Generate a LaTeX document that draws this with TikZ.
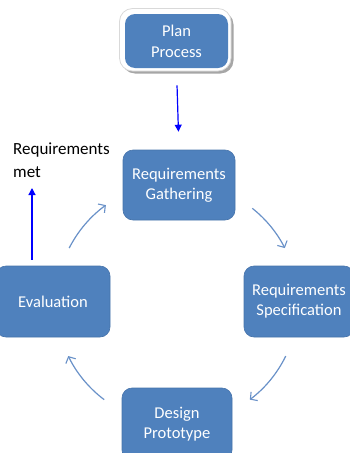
\documentclass[tikz,border=0pt]{standalone}
\usepackage{fontspec}
\setmainfont{Carlito}
\usetikzlibrary{arrows.meta,shadows,calc}
\definecolor{boxblue}{RGB}{79,129,189}
\definecolor{boxedge}{RGB}{70,115,170}
\definecolor{cycblue}{RGB}{105,145,200}
\tikzset{
  x=1pt,y=1pt,
  stagebox/.style={rectangle, rounded corners=10pt, fill=boxblue, draw=boxedge, line width=0.6pt,
    text=white, align=center, inner sep=0pt,
    font=\fontsize{16.5}{20}\selectfont},
  planframe/.style={fill=white, draw=black!15, line width=0.8pt, rounded corners=13pt},
  bluearrow/.style={draw=blue, line width=1.2pt, -{Triangle[length=7pt,width=7pt]}},
  cycarrow/.style={draw=cycblue, line width=1.2pt, -{Straight Barb[length=5pt,width=11pt,line width=1.1pt]}},
}
\begin{document}
\begin{tikzpicture}
\useasboundingbox (0,0) rectangle (349,-453);
\fill[black!35, rounded corners=13pt] (122,-11.5) rectangle (233.5,-73.5);
\path[planframe] (119.5,-8.5) rectangle (231,-71);
\node[stagebox, draw=none, minimum width=103pt, minimum height=54pt] (plan) at (176.5,-41) {Plan\\[1pt]Process};
\node[stagebox, minimum width=112pt, minimum height=70pt] (gather) at (179,-185) {Requirements\\Gathering};
\node[stagebox, minimum width=110pt, minimum height=71pt] (spec) at (299,-301.5) {Requirements\\Specification};
\node[stagebox, minimum width=114pt, minimum height=71pt] (eval) at (53,-301.5) {Evaluation};
\node[stagebox, minimum width=110pt, minimum height=72pt] (design) at (177,-424) {Design\\Prototype};
\node[anchor=north west, align=left, inner sep=0pt, font=\fontsize{17}{23}\selectfont] (met) at (13,-143) {Requirements\\met};
\coordinate (metend) at (32,-188);
\draw[bluearrow, shorten <=17pt, shorten >=18pt] (plan.south) -- (gather.north);
\draw[bluearrow, shorten <=6pt] (metend |- eval.north) -- (metend);
% cycle arcs (centre (177,-303), radius 121)
\coordinate (a1) at ($(177,-303)+(153:121)$);
\coordinate (a2) at ($(177,-303)+(51.5:121)$);
\coordinate (a3) at ($(177,-303)+(-26:121)$);
\coordinate (a4) at ($(177,-303)+(-127:121)$);
\draw[cycarrow] (a1) arc[start angle=153, end angle=126, radius=121];
\draw[cycarrow] (a2) arc[start angle=51.5, end angle=27, radius=121];
\draw[cycarrow] (a3) arc[start angle=-26, end angle=-53, radius=121];
\draw[cycarrow] (a4) arc[start angle=-127, end angle=-154, radius=121];
\end{tikzpicture}
\end{document}
